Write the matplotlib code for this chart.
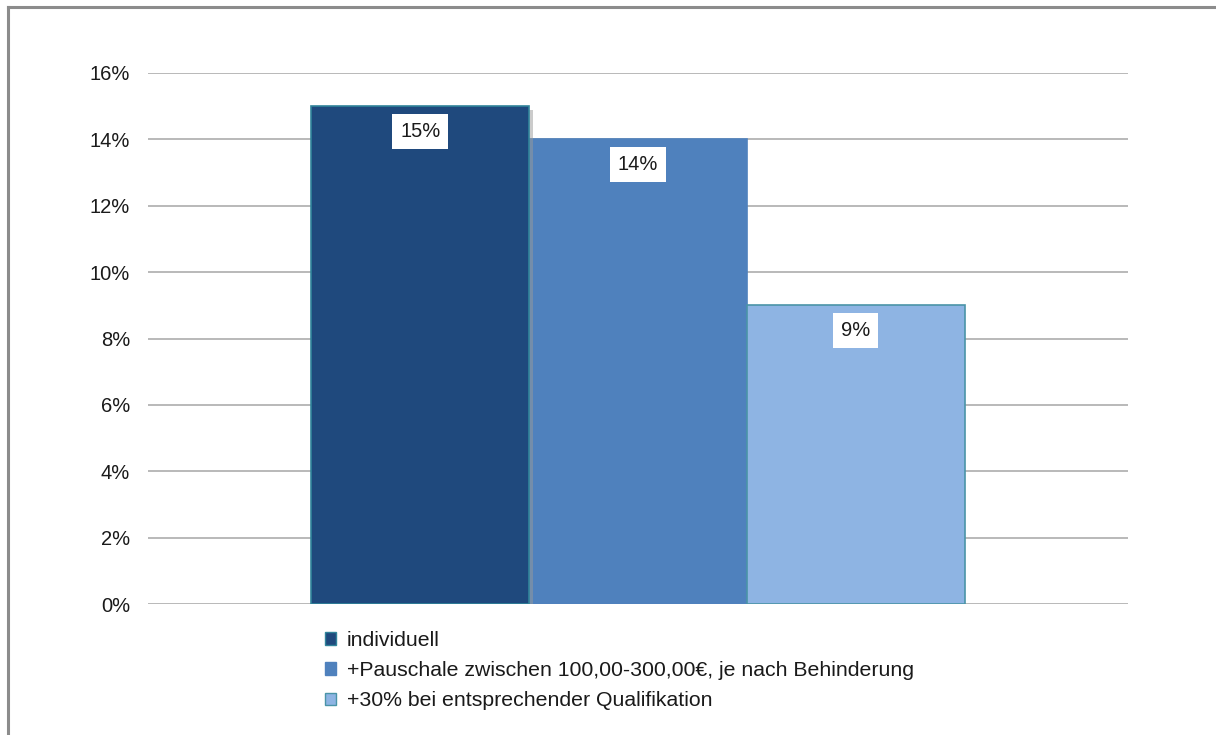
import matplotlib
matplotlib.use("Agg")
import matplotlib.pyplot as plt
import matplotlib.patheffects as pe
from matplotlib.lines import Line2D
from matplotlib.patches import Patch

series = ["individuell",
          "+Pauschale zwischen 100,00-300,00€, je nach Behinderung",
          "+30% bei entsprechender Qualifikation"]
values = [15, 14, 9]
colors = ["#1F497D", "#4F81BD", "#8EB4E3"]
edges = ["#31849B", "#4F81BD", "#4A94A8"]
yticks = [0, 2, 4, 6, 8, 10, 12, 14, 16]

plt.rcParams['font.family'] = ['Liberation Sans', 'DejaVu Sans']
FS = 14.5
LFS = 15.3

W, H = 1216, 735
fig = plt.figure(figsize=(W/100, H/100), dpi=100)
ax = fig.add_axes([148/W, 1-604/H, (1128-148)/W, (604-73)/H])

width = 0.2222
offsets = [-width, 0, width]
bars = []
for i, (v, c, e, off) in enumerate(zip(values, colors, edges, offsets)):
    b = ax.bar(off, v, width=width, color=c, edgecolor=e, linewidth=1.2,
               zorder=3 if i != 0 else 4)
    bars.append(b)
    ax.annotate(f"{v}%", xy=(off, v), xytext=(0, -25), textcoords='offset pixels',
                ha='center', va='center', fontsize=FS, color='#1a1a1a', zorder=6,
                bbox=dict(boxstyle='square,pad=0.4', fc='white', ec='none'))

bars[0].patches[0].set_path_effects([pe.SimplePatchShadow(offset=(3, -3), shadow_rgbFace='#999999', alpha=0.5), pe.Normal()])

ax.set_xlim(-0.5, 0.5)
ax.set_ylim(0, 16)
ax.set_yticks(yticks)
ax.set_yticklabels([f"{t}%" for t in yticks], fontsize=FS, color='#1a1a1a')
ax.set_xticks([])
ax.tick_params(axis='y', length=0, pad=13)
for s in ax.spines.values():
    s.set_visible(False)
ax.yaxis.grid(True, color='#A6A6A6', linewidth=1.1, zorder=0)
ax.set_axisbelow(True)

handles = [Patch(facecolor=c, edgecolor=e, linewidth=1.0) for c, e in zip(colors, edges)]
leg = ax.legend(handles, series, loc='upper left', bbox_to_anchor=(325/W, 1-631/H),
                bbox_transform=fig.transFigure,
                frameon=False, fontsize=LFS, handlelength=0.5, handleheight=0.5,
                handletextpad=0.52, labelspacing=0.52, borderpad=0, borderaxespad=0)
for t in leg.get_texts():
    t.set_color('#1a1a1a')

# outer frame
fig.add_artist(Line2D([8/W, 8/W], [0, 1-7/H], transform=fig.transFigure, color='#8C8C8C', linewidth=2.2))
fig.add_artist(Line2D([8/W, 1], [1-7/H, 1-7/H], transform=fig.transFigure, color='#8C8C8C', linewidth=2.2))

fig.savefig("out.png", dpi=100)
